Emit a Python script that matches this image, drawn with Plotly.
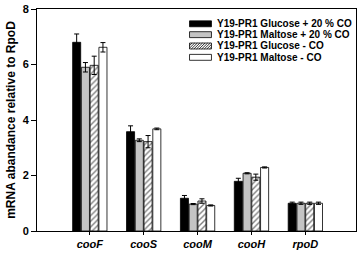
import plotly.graph_objects as go

genes = ["cooF", "cooS", "cooM", "cooH", "rpoD"]
series_names = ["Y19-PR1 Glucose + 20 % CO", "Y19-PR1 Maltose + 20 % CO",
                "Y19-PR1 Glucose - CO", "Y19-PR1 Maltose - CO"]
glc_co = [6.80, 3.58, 1.18, 1.79, 1.00]
glc_co_err = [0.30, 0.21, 0.10, 0.11, 0.04]
mal_co = [5.90, 3.27, 0.97, 2.08, 1.00]
mal_co_err = [0.17, 0.05, 0.02, 0.02, 0.04]
glc_noco = [5.97, 3.22, 1.08, 1.94, 1.00]
glc_noco_err = [0.33, 0.22, 0.08, 0.11, 0.04]
mal_noco = [6.62, 3.68, 0.92, 2.29, 1.00]
mal_noco_err = [0.17, 0.03, 0.02, 0.02, 0.04]
y_ticks = [0, 2, 4, 6, 8]

W, H = 360, 253
ML, MR, MT, MB = 37, 3, 7, 21
PW, PH = W - ML - MR, H - MT - MB

def px(x):
    return (x - ML) / PW

def py(y):
    return 1 - (y - MT) / PH

xs = list(range(len(genes)))
fig = go.Figure()
fills = ["black", "#c4c4c4", "white", "white"]
data = [(glc_co, glc_co_err), (mal_co, mal_co_err), (glc_noco, glc_noco_err), (mal_noco, mal_noco_err)]
for i, (name, (vals, errs), col) in enumerate(zip(series_names, data, fills)):
    marker = dict(color=col, line=dict(color="black", width=0.8))
    if i == 2:
        marker["pattern"] = dict(shape="/", fgcolor="black", bgcolor="white", size=4, solidity=0.35)
    fig.add_trace(go.Bar(
        x=xs, y=vals, name=name, marker=marker, showlegend=False,
        error_y=dict(type="data", array=errs, visible=True, color="black", thickness=1, width=2.5),
    ))

# manual legend (layout only)
shapes = []
annotations = []
row_y = [22, 33, 44.5, 56]
sx0, sx1 = 190, 212
for i, (name, col) in enumerate(zip(series_names, fills)):
    y0, y1 = row_y[i] - 3, row_y[i] + 3
    shapes.append(dict(type="rect", xref="paper", yref="paper",
                       x0=px(sx0), x1=px(sx1), y0=py(y1), y1=py(y0),
                       fillcolor=col, line=dict(color="black", width=0.8), layer="above"))
    if i == 2:
        h = y1 - y0
        step = 2.6
        t = sx0 - h
        while t < sx1:
            xa, ya = t, y1
            xb, yb = t + h, y0
            if xa < sx0:
                ya = y1 - (sx0 - xa)
                xa = sx0
            if xb > sx1:
                yb = y0 + (xb - sx1)
                xb = sx1
            if xb > xa:
                shapes.append(dict(type="line", xref="paper", yref="paper",
                                   x0=px(xa), y0=py(ya), x1=px(xb), y1=py(yb),
                                   line=dict(color="black", width=0.8), layer="above"))
            t += step
    annotations.append(dict(xref="paper", yref="paper", x=px(216), y=py(row_y[i]),
                            xanchor="left", yanchor="middle", showarrow=False,
                            text=f"<b>{name}</b>", font=dict(size=10, color="black")))

fig.update_layout(
    width=W, height=H,
    margin=dict(l=ML, r=MR, t=MT, b=MB),
    paper_bgcolor="white", plot_bgcolor="white",
    barmode="group", bargap=0.35, bargroupgap=0.08,
    font=dict(family="Liberation Sans, Arial", color="black"),
    showlegend=False,
    shapes=shapes, annotations=annotations,
)
fig.update_xaxes(
    range=[-0.98, 4.94], tickvals=xs,
    ticktext=[f"<b><i>{g}</i></b>" for g in genes],
    tickfont=dict(size=11), showgrid=False, zeroline=False,
    showline=True, linecolor="black", linewidth=1, mirror=True,
    ticks="outside", ticklen=3, tickcolor="black",
)
fig.update_yaxes(
    range=[0, 8], tickvals=y_ticks,
    ticktext=[f"<b>{t}</b>" for t in y_ticks],
    tickfont=dict(size=11), showgrid=False, zeroline=False,
    showline=True, linecolor="black", linewidth=1, mirror=True,
    ticks="outside", ticklen=5, tickcolor="black",
    title=dict(text="<b>mRNA abandance relative to RpoD</b>", font=dict(size=12), standoff=4),
)
fig.write_html("out.html", config={"displayModeBar": False},
               post_script="document.body.style.margin='0';")
